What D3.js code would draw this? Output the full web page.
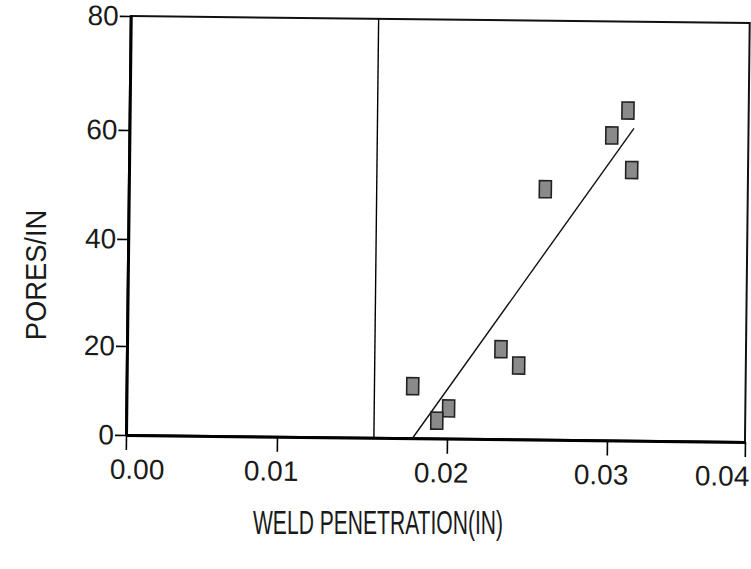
<!DOCTYPE html>
<html>
<head>
<meta charset="utf-8">
<script src="https://cdn.jsdelivr.net/npm/d3@7"></script>
<style>
  body { margin: 0; background: #fff; }
  text { font-family: "Liberation Sans", Arial, sans-serif; fill: #1a1a1a; }
</style>
</head>
<body>
<div class="chart"></div>
<script>
// values
const penetration = [0.03125, 0.0301, 0.03157, 0.02597, 0.02331, 0.02443, 0.01795, 0.02008, 0.01939];
const pores       = [64.4, 60.0, 53.7, 50.0, 20.2, 16.6, 11.7, 6.8, 4.0];
const fitX = [0.01797, 0.0317];   // fitted line, ends at the data range
const fitY = [0, 61.3];
const limitX = 0.0157;            // vertical reference line
const xTicks = [0, 0.01, 0.02, 0.03, 0.04];
const yTicks = [0, 20, 40, 60, 80];

const W = 751, H = 569;
const svg = d3.select('.chart').append('svg').attr('width', W).attr('height', H);

// the scan is skewed and unevenly stretched, so ticks are placed piecewise
const x = d3.scaleLinear().domain(xTicks).range([126, 277, 447, 607, 745]);
const y = d3.scaleLinear().domain(yTicks).range([435, 346, 239, 130, 16]);

const g = svg.append('g').attr('transform', 'rotate(0.65,126,435)');

// frame
g.append('rect')
    .attr('x', x(0)).attr('y', y(80))
    .attr('width', x(0.04) - x(0)).attr('height', y(0) - y(80))
    .attr('fill', 'none').attr('stroke', '#111').attr('stroke-width', 2);

// x axis
let xAxis = g.append('g')
    .attr('transform', 'translate(0,' + y(0) + ')')
    .call(d3.axisBottom(x).tickValues(xTicks).tickSize(15).tickSizeOuter(0).tickFormat(d3.format('.2f')));
xAxis.select('.domain').attr('stroke', '#000').attr('stroke-width', 3);
xAxis.selectAll('.tick line').attr('stroke', '#000').attr('stroke-width', 1.6);
xAxis.selectAll('.tick text')
    .attr('font-size', 28).attr('y', 24)
    .attr('x', (d) => Math.max(137, Math.min(722, x(d) - 6)) - x(d));

// y axis
let yAxis = g.append('g')
    .attr('transform', 'translate(' + x(0) + ',0)')
    .call(d3.axisLeft(y).tickValues(yTicks).tickSize(11).tickSizeOuter(0).tickPadding(1));
yAxis.select('.domain').attr('stroke', '#000').attr('stroke-width', 3);
yAxis.selectAll('.tick line').attr('stroke', '#000').attr('stroke-width', 1.6);
yAxis.selectAll('.tick text').attr('font-size', 28);

// vertical reference line
g.append('line')
    .attr('x1', x(limitX)).attr('x2', x(limitX))
    .attr('y1', y(0)).attr('y2', y(80))
    .attr('stroke', '#000').attr('stroke-width', 1.4);

// fitted line
g.append('line')
    .attr('x1', x(fitX[0])).attr('y1', y(fitY[0]))
    .attr('x2', x(fitX[1])).attr('y2', y(fitY[1]))
    .attr('stroke', '#111').attr('stroke-width', 1.4);

// points
g.selectAll('rect.pt')
    .data(penetration)
    .enter()
    .append('rect')
    .attr('class', 'pt')
    .attr('x', (d) => x(d) - 6)
    .attr('y', (d, i) => y(pores[i]) - 8.5)
    .attr('width', 12).attr('height', 17)
    .attr('fill', '#8a8a8a').attr('stroke', '#222').attr('stroke-width', 1.6);

// axis titles
svg.append('text')
    .attr('transform', 'translate(378,522) scale(0.62,1)')
    .attr('text-anchor', 'middle').attr('dy', '.35em')
    .attr('font-size', 34)
    .text('WELD PENETRATION(IN)');

svg.append('text')
    .attr('transform', 'translate(35,275) rotate(-90) scale(0.91,1)')
    .attr('text-anchor', 'middle').attr('dy', '.35em')
    .attr('font-size', 30)
    .text('PORES/IN');
</script>
</body>
</html>
